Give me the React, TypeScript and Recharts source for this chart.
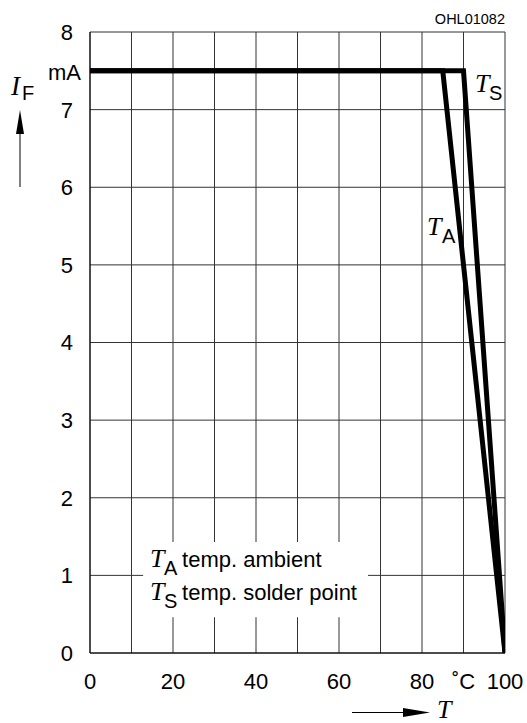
import React from "react";
import {
  LineChart,
  Line,
  XAxis,
  YAxis,
  CartesianGrid,
  ReferenceArea,
  Customized,
} from "recharts";

const xTicks = [0, 10, 20, 30, 40, 50, 60, 70, 80, 90, 100];
const xTickLabels: Record<number, string> = {
  0: "0",
  20: "20",
  40: "40",
  60: "60",
  80: "80",
  90: "˚C",
  100: "100",
};
const yTicks = [0, 1, 2, 3, 4, 5, 6, 7, 8];

const ambientT = [0, 85, 100];
const ambientI = [7.5, 7.5, 0];
const solderT = [0, 90, 100];
const solderI = [7.5, 7.5, 0];

const ambientData = ambientT.map((t, i) => ({ T: t, I: ambientI[i] }));
const solderData = solderT.map((t, i) => ({ T: t, I: solderI[i] }));

const SANS = "'Liberation Sans', Arial, Helvetica, sans-serif";
const SERIF = "'Liberation Serif', 'Times New Roman', serif";
const FS = 22;

const XTick = (props: any) => {
  const { x, y, payload } = props;
  const label = xTickLabels[payload.value];
  if (!label) return null;
  return (
    <text x={x} y={y + 28} textAnchor="middle" fontFamily={SANS} fontSize={FS} fill="#000">
      {label}
    </text>
  );
};

const YTick = (props: any) => {
  const { x, y, payload } = props;
  return (
    <text x={x - 9} y={y} dy="0.36em" textAnchor="end" fontFamily={SANS} fontSize={FS} fill="#000">
      {String(payload.value)}
    </text>
  );
};

const LegendLabel = (props: any) => {
  const vb = props.viewBox || { x: 143, y: 542 };
  const x0 = vb.x;
  const y0 = vb.y;
  return (
    <g>
      <text x={x0 + 7} y={y0 + 25} fontFamily={SERIF} fontStyle="italic" fontSize={26} fill="#000">T</text>
      <text x={x0 + 21} y={y0 + 33} fontFamily={SANS} fontSize={20} fill="#000">A</text>
      <text x={x0 + 39} y={y0 + 25} fontFamily={SANS} fontSize={FS} fill="#000">temp. ambient</text>
      <text x={x0 + 7} y={y0 + 58} fontFamily={SERIF} fontStyle="italic" fontSize={26} fill="#000">T</text>
      <text x={x0 + 21} y={y0 + 66} fontFamily={SANS} fontSize={20} fill="#000">S</text>
      <text x={x0 + 39} y={y0 + 58} fontFamily={SANS} fontSize={FS} fill="#000">temp. solder point</text>
    </g>
  );
};

const Annotations = () => (
  <g>
    {/* y axis title */}
    <text x={11} y={95} fontFamily={SERIF} fontStyle="italic" fontSize={27} fill="#000">I</text>
    <text x={22} y={100} fontFamily={SANS} fontSize={20} fill="#000">F</text>
    <line x1={20} y1={187} x2={20} y2={130} stroke="#000" strokeWidth={1} />
    <polygon points="20,110 16,134 24,134" fill="#000" />
    {/* mA unit */}
    <text x={81} y={72} dy="0.36em" textAnchor="end" fontFamily={SANS} fontSize={FS} fill="#000">mA</text>
    {/* code */}
    <text x={505} y={24} textAnchor="end" fontFamily={SANS} fontSize={14.5} fill="#000">OHL01082</text>
    {/* x axis title */}
    <line x1={352} y1={712.5} x2={410} y2={712.5} stroke="#000" strokeWidth={1} />
    <polygon points="403,708 430,712.5 403,717" fill="#000" />
    <text x={437} y={718} fontFamily={SERIF} fontStyle="italic" fontSize={26} fill="#000">T</text>
    {/* curve labels */}
    <text x={475} y={92} fontFamily={SERIF} fontStyle="italic" fontSize={26} fill="#000">T</text>
    <text x={489} y={100} fontFamily={SANS} fontSize={20} fill="#000">S</text>
    <text x={427} y={235} fontFamily={SERIF} fontStyle="italic" fontSize={26} fill="#000">T</text>
    <text x={442} y={243} fontFamily={SANS} fontSize={20} fill="#000">A</text>
  </g>
);

export default function App() {
  return (
    <div style={{ position: "absolute", left: 0, top: 0, width: 527, height: 723, background: "#fff" }}>
      <LineChart
        width={527}
        height={723}
        margin={{ top: 32, right: 22, left: 30, bottom: 40 }}
      >
        <CartesianGrid stroke="#333" strokeWidth={1} />
        <XAxis
          type="number"
          dataKey="T"
          domain={[0, 100]}
          ticks={xTicks}
          interval={0}
          tick={<XTick />}
          tickLine={false}
          axisLine={{ stroke: "#000" }}
          height={30}
          allowDataOverflow
        />
        <YAxis
          type="number"
          dataKey="I"
          domain={[0, 8]}
          ticks={yTicks}
          interval={0}
          tick={<YTick />}
          tickLine={false}
          axisLine={{ stroke: "#000" }}
          width={60}
          allowDataOverflow
        />
        <ReferenceArea
          x1={12.8}
          x2={67}
          y1={0.46}
          y2={1.43}
          fill="#fff"
          fillOpacity={1}
          stroke="none"
          label={<LegendLabel />}
        />
        <Line
          data={ambientData}
          dataKey="I"
          stroke="#000"
          strokeWidth={5}
          dot={false}
          isAnimationActive={false}
          strokeLinejoin="miter"
          type="linear"
        />
        <Line
          data={solderData}
          dataKey="I"
          stroke="#000"
          strokeWidth={5}
          dot={false}
          isAnimationActive={false}
          strokeLinejoin="miter"
          type="linear"
        />
        <Customized component={Annotations} />
      </LineChart>
    </div>
  );
}
